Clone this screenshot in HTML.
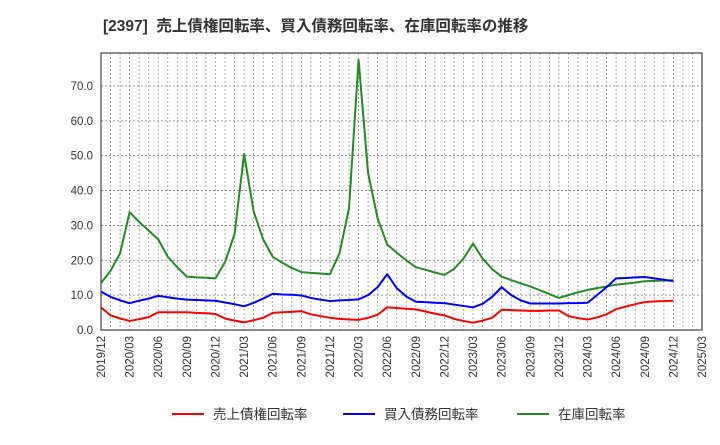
<!DOCTYPE html>
<html><head><meta charset="utf-8"><style>
body{margin:0;background:#fff;}
svg{font-family:"Liberation Sans","Noto Sans CJK JP",sans-serif;}
</style></head><body>
<svg width="720" height="440" viewBox="0 0 720 440">
<text x="103" y="31" font-size="15.5" font-weight="bold" fill="#333" xml:space="preserve" style="white-space:pre">[2397]  売上債権回転率、買入債務回転率、在庫回転率の推移</text>
<g id="grid"></g><g id="axes"></g><g id="series"></g>
<rect x="101" y="53" width="601" height="277" fill="none" stroke="#444" stroke-width="1.2"/>
<g>
<line x1="172" y1="414" x2="204" y2="414" stroke="#ff0000" stroke-width="2"/><text x="213" y="419" font-size="13.5" fill="#333">売上債権回転率</text>
<line x1="343" y1="414" x2="375" y2="414" stroke="#0000ff" stroke-width="2"/><text x="384" y="419" font-size="13.5" fill="#333">買入債務回転率</text>
<line x1="517" y1="414" x2="549" y2="414" stroke="#228b22" stroke-width="2"/><text x="558" y="419" font-size="13.5" fill="#333">在庫回転率</text>
</g>
</svg>
<script>
const xLabels=["2019/12","2020/03","2020/06","2020/09","2020/12","2021/03","2021/06","2021/09","2021/12","2022/03","2022/06","2022/09","2022/12","2023/03","2023/06","2023/09","2023/12","2024/03","2024/06","2024/09","2024/12","2025/03"];
const yTicks=[0,10,20,30,40,50,60,70];
const receivables=[6.5,4.2,3.3,2.6,3.1,3.7,5.1,5.1,5.1,5.1,4.9,4.8,4.6,3.3,2.7,2.2,2.8,3.5,4.9,5.1,5.2,5.4,4.5,4,3.5,3.2,3,2.9,3.5,4.4,6.5,6.3,6.1,5.9,5.3,4.7,4.2,3.2,2.6,2.1,2.7,3.5,5.8,5.7,5.6,5.5,5.5,5.6,5.6,4,3.4,3,3.6,4.5,6,6.7,7.4,8,8.2,8.3,8.4];
const payables=[11,9.5,8.5,7.7,8.4,9,9.8,9.4,9,8.7,8.6,8.5,8.4,7.9,7.4,6.8,7.8,9,10.4,10.2,10.1,9.9,9.2,8.7,8.3,8.5,8.6,8.8,10,12.3,16,12,9.6,8.1,8,7.8,7.7,7.3,6.9,6.5,7.5,9.5,12.3,10,8.5,7.6,7.6,7.6,7.6,7.7,7.7,7.8,10,12.3,14.8,14.9,15.1,15.2,14.8,14.4,14];
const inventory=[13.5,17,22,33.8,31,28.5,26,21,18,15.3,15.1,15,14.8,19.5,27.5,50.5,34,26,21,19.3,17.8,16.6,16.4,16.2,16,22,35,77.5,45,32,24.5,22.2,20,18,17.3,16.5,15.8,17.5,20.5,24.8,20.5,17.5,15.3,14.3,13.4,12.5,11.4,10.3,9.2,10,10.8,11.5,12,12.5,13,13.3,13.6,14,14.1,14.2,14.3];
const L=101,R=702,T=53,B=330,months=63,yMax=79.46;
const xs=m=>L+m*(R-L)/months, ys=v=>B-v*(B-T)/yMax;
const NS="http://www.w3.org/2000/svg";
const grid=document.getElementById('grid'),axes=document.getElementById('axes'),ser=document.getElementById('series');
function mk(t,a,p){const e=document.createElementNS(NS,t);for(const k in a)e.setAttribute(k,a[k]);p.appendChild(e);return e;}
for(let m=1;m<months;m++){const l=mk('line',{x1:xs(m),x2:xs(m),y1:T,y2:B,stroke:'#999','stroke-width':0.8,'stroke-dasharray':'2,2'},grid);

}
yTicks.forEach(v=>{const l=mk('line',{x1:L,x2:R,y1:ys(v),y2:ys(v),stroke:'#777','stroke-width':0.8,'stroke-dasharray':'2,2'},grid);


const t=mk('text',{x:L-8,y:ys(v)+4,'text-anchor':'end','font-size':11.5,fill:'#333'},axes);t.textContent=v.toFixed(1);

});
xLabels.forEach((s,i)=>{const x=xs(i*3);const t=mk('text',{x:0,y:0,transform:`translate(${x+4},${B+6}) rotate(-90)`,'text-anchor':'end','font-size':11.5,fill:'#333'},axes);t.textContent=s;

});
function line(d,c,n){const p=mk('polyline',{points:d.map((v,i)=>xs(i)+','+ys(v)).join(' '),fill:'none',stroke:c,'stroke-width':2,'stroke-linejoin':'round'},ser);

}
line(inventory,'#228b22','inventory-turnover-line');
line(payables,'#0000ff','payables-turnover-line');
line(receivables,'#ff0000','receivables-turnover-line');
</script>
</body></html>
